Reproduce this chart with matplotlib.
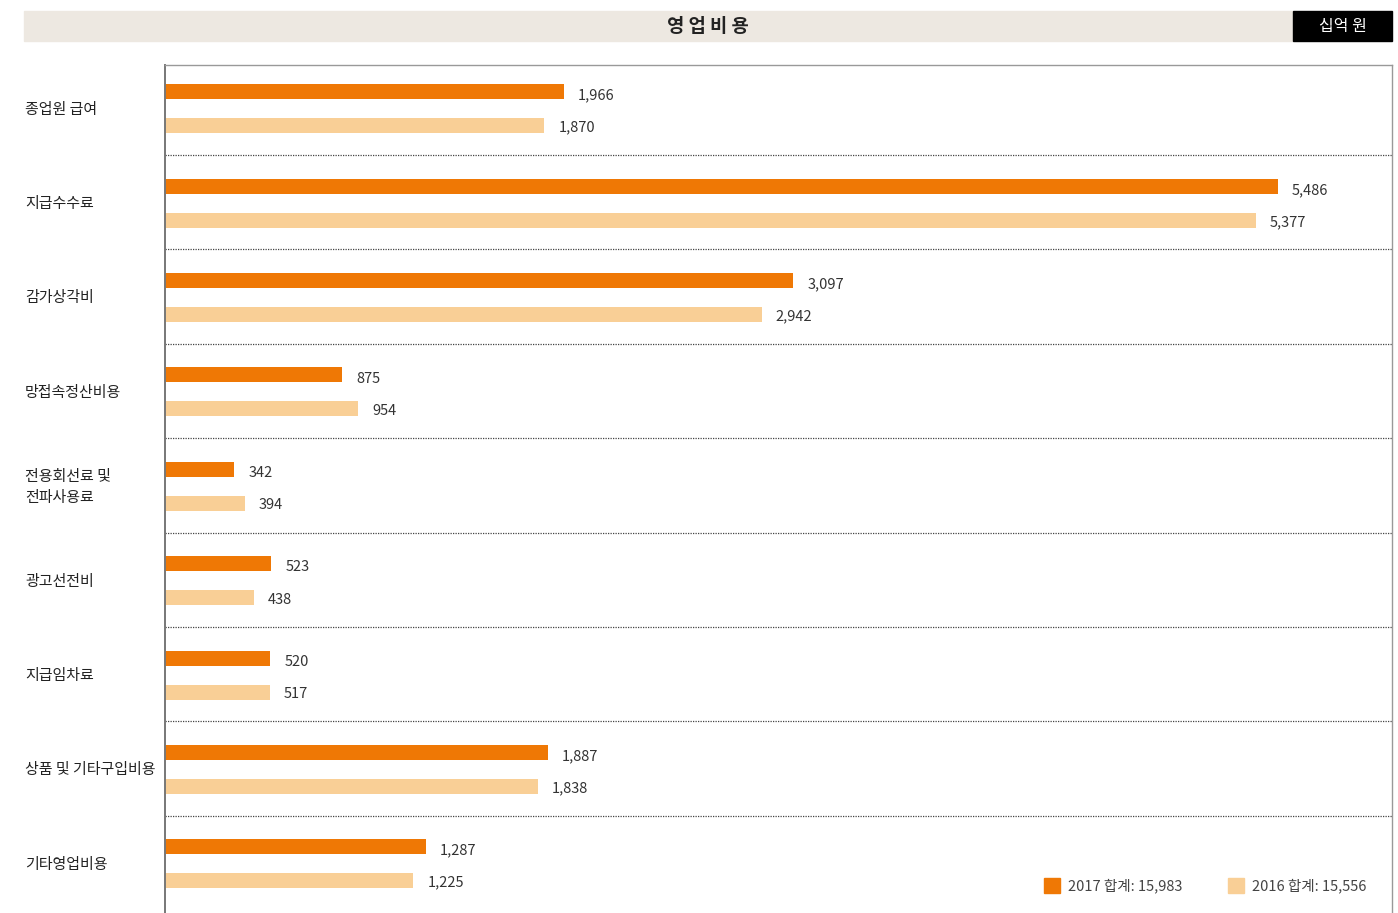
import matplotlib
matplotlib.use("Agg")
import matplotlib.pyplot as plt
from matplotlib.patches import Rectangle

plt.rcParams['font.family'] = ['Noto Sans CJK KR', 'DejaVu Sans']

# data (십억 원)
categories = ["종업원 급여", "지급수수료", "감가상각비", "망접속정산비용",
              "전용회선료 및\n전파사용료", "광고선전비", "지급임차료",
              "상품 및 기타구입비용", "기타영업비용"]
vals_2017 = [1966, 5486, 3097, 875, 342, 523, 520, 1887, 1287]
vals_2016 = [1870, 5377, 2942, 954, 394, 438, 517, 1838, 1225]
total_2017 = "15,983"
total_2016 = "15,556"

c17 = "#ef7805"
c16 = "#f9cf96"

W, H = 1398, 913
fig = plt.figure(figsize=(W / 100, H / 100), dpi=100)

# title bar
fig.patches.append(Rectangle((24 / W, 1 - 41 / H), (1293 - 24) / W, 30 / H,
                             transform=fig.transFigure, color="#ede8e1", zorder=0))
fig.patches.append(Rectangle((1293 / W, 1 - 41 / H), (1392 - 1293) / W, 30 / H,
                             transform=fig.transFigure, color="black", zorder=0))
fig.text(708 / W, 1 - 27 / H, "영 업 비 용", ha="center", va="center",
         fontsize=13.5, fontweight="bold", color="#222222")
fig.text(1343 / W, 1 - 27 / H, "십억 원", ha="center", va="center",
         fontsize=11.5, color="white")

ax = fig.add_axes([165 / W, 0, (1392 - 165) / W, (913 - 65) / H])
n = len(categories)
y = list(range(n))
ax.barh([i + 0.33 for i in y], vals_2017, height=0.16, color=c17, zorder=2)
ax.barh([i + 0.69 for i in y], vals_2016, height=0.16, color=c16, zorder=2)

for i in y:
    ax.text(vals_2017[i] + 70, i + 0.37, f"{vals_2017[i]:,}", va="center",
            ha="left", fontsize=10.5, color="#333333")
    ax.text(vals_2016[i] + 70, i + 0.71, f"{vals_2016[i]:,}", va="center",
            ha="left", fontsize=10.5, color="#333333")

# dotted separators between categories
for k in range(1, n):
    ax.axhline(k, color="#444444", lw=0.9, ls=(0, (1, 1)), zorder=1)

ax.set_xlim(0, 6050)
ax.set_ylim(9.03, 0.047)
ax.set_xticks([])
ax.set_yticks([])
ax.spines["bottom"].set_visible(False)
ax.spines["left"].set_color("#777777")
ax.spines["left"].set_linewidth(1.4)
for s in ("top", "right"):
    ax.spines[s].set_color("#999999")
    ax.spines[s].set_linewidth(1.0)

# category labels at band centres, left aligned at figure edge
for i in y:
    yc = ax.transData.transform((0, i + 0.52))[1]
    fig.text(25 / W, yc / H, categories[i], ha="left", va="center",
             fontsize=10.8, color="#222222", linespacing=1.6)

# legend
for x0, col, lab in [(1044, c17, "2017 합계: " + total_2017),
                     (1228, c16, "2016 합계: " + total_2016)]:
    fig.patches.append(Rectangle((x0 / W, 1 - 893 / H), 16 / W, 15 / H,
                                 transform=fig.transFigure, color=col))
    fig.text((x0 + 24) / W, 1 - 886 / H, lab, ha="left", va="center",
             fontsize=10.5, color="#444444")

fig.savefig("out.png", dpi=100)
